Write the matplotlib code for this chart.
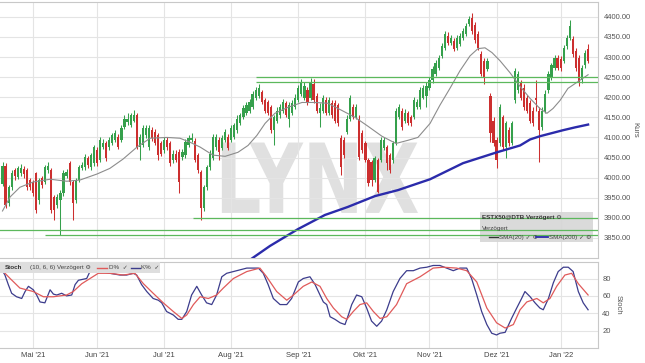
import numpy as np
import pandas as pd
import matplotlib
matplotlib.use("Agg")
import matplotlib.pyplot as plt
from matplotlib.patches import Rectangle, PathPatch
from matplotlib.textpath import TextPath
from matplotlib.font_manager import FontProperties
from matplotlib.transforms import Affine2D

plt.rcParams['font.family'] = ['Liberation Sans', 'DejaVu Sans']

# ---------------- data ----------------
opens = [3985, 4030, 3937, 3976, 4018, 4001, 4012, 4022, 4019, 3994,
         3989, 4011, 3944, 3999, 3989, 4019, 4019, 3952, 3932, 3944,
         3962, 4004, 4036, 3989, 3944, 3994, 4023, 4026, 4048, 4026,
         4036, 4068, 4043, 4075, 4085, 4075, 4085, 4093, 4100, 4093,
         4125, 4138, 4130, 4142, 4155, 4075, 4080, 4105, 4075, 4118,
         4113, 4105, 4085, 4068, 4093, 4085, 4043, 4060, 4063, 4051,
         4056, 4080, 4093, 4090, 4056, 4014, 3924, 3976, 4026, 4050,
         4075, 4093, 4073, 4093, 4100, 4093, 4100, 4118, 4135, 4150,
         4162, 4167, 4175, 4197, 4204, 4212, 4192, 4187, 4175, 4118,
         4142, 4155, 4167, 4185, 4147, 4162, 4175, 4192, 4209, 4199,
         4217, 4199, 4234, 4204, 4162, 4167, 4192, 4162, 4185, 4185,
         4180, 4098, 4093, 4113, 4147, 4175, 4150, 4147, 4110, 4085,
         4043, 4038, 3994, 4043, 4043, 4073, 4075, 4056, 4043, 4085,
         4150, 4167, 4142, 4160, 4150, 4150, 4175, 4175, 4199, 4204,
         4224, 4242, 4259, 4274, 4303, 4323, 4353, 4336, 4341, 4323,
         4333, 4348, 4358, 4383, 4398, 4380, 4358, 4308, 4291, 4271,
         4204, 4142, 4093, 4085, 4150, 4075, 4118, 4085, 4192, 4217,
         4237, 4224, 4199, 4185, 4167, 4197, 4167, 4125, 4167, 4217,
         4249, 4274, 4298, 4296, 4291, 4328, 4348, 4345, 4316, 4298,
         4242, 4279, 4321]
highs = [4040, 4036, 3982, 4018, 4025, 4030, 4033, 4028, 4025, 4000,
         3995, 4015, 4000, 4005, 4032, 4040, 4025, 3958, 3960, 3970,
         4018, 4022, 4042, 3995, 4000, 4032, 4040, 4058, 4055, 4062,
         4082, 4075, 4100, 4095, 4092, 4100, 4112, 4118, 4108, 4130,
         4155, 4160, 4162, 4168, 4160, 4108, 4130, 4132, 4130, 4125,
         4120, 4112, 4092, 4100, 4100, 4092, 4068, 4068, 4070, 4070,
         4095, 4105, 4110, 4098, 4062, 4020, 3982, 4032, 4068, 4108,
         4108, 4100, 4105, 4120, 4108, 4130, 4137, 4155, 4162, 4180,
         4187, 4195, 4215, 4225, 4232, 4218, 4198, 4192, 4180, 4155,
         4175, 4182, 4195, 4190, 4187, 4192, 4207, 4230, 4245, 4237,
         4225, 4248, 4245, 4210, 4185, 4205, 4200, 4200, 4192, 4192,
         4185, 4105, 4100, 4155, 4205, 4182, 4182, 4155, 4118, 4092,
         4050, 4045, 4055, 4050, 4100, 4100, 4082, 4062, 4092, 4172,
         4182, 4172, 4170, 4167, 4157, 4200, 4195, 4225, 4230, 4237,
         4250, 4278, 4292, 4305, 4335, 4365, 4362, 4356, 4348, 4356,
         4360, 4372, 4385, 4403, 4410, 4388, 4365, 4315, 4298, 4298,
         4210, 4150, 4100, 4182, 4157, 4142, 4125, 4142, 4274, 4266,
         4244, 4232, 4206, 4192, 4175, 4242, 4175, 4175, 4217, 4266,
         4286, 4305, 4305, 4303, 4330, 4355, 4392, 4352, 4322, 4305,
         4281, 4318, 4333]
lows = [3978, 3925, 3930, 3970, 3995, 3996, 4005, 4000, 3970, 3968,
        3955, 3912, 3935, 3975, 3983, 4012, 3912, 3895, 3925, 3857,
        3955, 3998, 3982, 3895, 3938, 3988, 4018, 4020, 4025, 4020,
        4030, 4030, 4038, 4070, 4042, 4068, 4080, 4088, 4070, 4088,
        4120, 4132, 4125, 4138, 4070, 4045, 4075, 4098, 4068, 4092,
        4080, 4045, 4055, 4062, 4068, 4030, 4036, 4038, 3962, 4045,
        4050, 4075, 4088, 4038, 4012, 3895, 3918, 3970, 4020, 4045,
        4068, 4045, 4068, 4088, 4068, 4088, 4095, 4112, 4130, 4145,
        4157, 4162, 4170, 4192, 4198, 4182, 4160, 4155, 4110, 4080,
        4135, 4148, 4160, 4150, 4125, 4155, 4170, 4187, 4204, 4192,
        4180, 4192, 4185, 4160, 4125, 4160, 4155, 4155, 4148, 4135,
        4128, 4006, 4050, 4108, 4142, 4145, 4145, 4045, 4062, 4038,
        3978, 3980, 3988, 3962, 4038, 4068, 4019, 4012, 4036, 4080,
        4145, 4118, 4135, 4130, 4128, 4145, 4170, 4170, 4195, 4175,
        4218, 4236, 4254, 4268, 4298, 4318, 4330, 4330, 4314, 4318,
        4328, 4342, 4352, 4378, 4358, 4336, 4318, 4252, 4234, 4265,
        4088, 4078, 4023, 4078, 4068, 4050, 4078, 4080, 4185, 4210,
        4192, 4168, 4160, 4135, 4128, 4165, 4038, 4118, 4160, 4210,
        4242, 4268, 4268, 4266, 4285, 4321, 4342, 4300, 4266, 4227,
        4236, 4272, 4285]
closes = [4030, 3932, 3976, 4011, 4003, 4023, 4025, 4008, 3976, 3976,
          3962, 3919, 3994, 3981, 4026, 4028, 3919, 3919, 3952, 3962,
          4011, 4014, 3989, 3937, 3994, 4026, 4031, 4051, 4031, 4056,
          4075, 4036, 4093, 4085, 4048, 4093, 4105, 4110, 4075, 4123,
          4147, 4147, 4155, 4155, 4075, 4100, 4123, 4123, 4123, 4098,
          4085, 4056, 4060, 4093, 4075, 4036, 4060, 4043, 3989, 4063,
          4088, 4098, 4098, 4043, 4019, 3924, 3976, 4026, 4060, 4100,
          4100, 4063, 4098, 4113, 4073, 4123, 4130, 4147, 4155, 4172,
          4180, 4187, 4209, 4217, 4222, 4187, 4167, 4162, 4118, 4150,
          4167, 4175, 4187, 4155, 4180, 4185, 4199, 4222, 4237, 4229,
          4185, 4237, 4192, 4167, 4172, 4197, 4160, 4192, 4155, 4142,
          4135, 4026, 4056, 4147, 4197, 4150, 4175, 4051, 4068, 4043,
          3986, 3994, 4048, 3964, 4093, 4093, 4036, 4019, 4085, 4167,
          4175, 4125, 4162, 4135, 4135, 4192, 4187, 4217, 4222, 4229,
          4242, 4271, 4284, 4298, 4328, 4358, 4336, 4348, 4321, 4348,
          4353, 4365, 4378, 4395, 4365, 4343, 4323, 4259, 4249, 4291,
          4110, 4085, 4043, 4175, 4075, 4135, 4085, 4135, 4266, 4259,
          4199, 4175, 4167, 4142, 4135, 4192, 4118, 4167, 4209, 4259,
          4279, 4298, 4274, 4274, 4323, 4348, 4378, 4308, 4274, 4237,
          4274, 4311, 4291]

sma20_idx = [0, 2.5, 5.7, 10, 15.6, 21.1, 25.4, 31, 35.2, 39.5, 44.1, 48.4,
             53.9, 58.2, 61.5, 64.8, 69, 73, 77.2, 80.5, 83.4, 86.1, 89.3,
             93.6, 98.2, 102.5, 106.7, 111.3, 115.6, 119.8, 124.4, 129, 133,
             136.2, 140.2, 143.4, 146.7, 150, 153.3, 155.9, 158.2, 160.5,
             163.1, 166.4, 169.7, 173, 176.2, 178.5, 180.5, 182.8, 185.4,
             188.7, 192]
sma20_val = [3917, 3952, 3976, 3989, 3996, 3991, 3994, 4009, 4023, 4046, 4076,
             4098, 4100, 4098, 4088, 4076, 4056, 4053, 4063, 4080, 4105, 4135,
             4160, 4175, 4187, 4187, 4185, 4167, 4150, 4128, 4103, 4085, 4093,
             4100, 4135, 4180, 4222, 4266, 4303, 4321, 4323, 4311, 4291, 4261,
             4227, 4197, 4172, 4160, 4172, 4192, 4222, 4239, 4256]

sma200_idx = [80, 82, 87.7, 96.9, 105.7, 113.2, 122.1, 129.7, 140.2, 151,
              162.1, 169.7, 173, 176.2, 183.8, 187.7, 192]
sma200_val = [3789, 3800, 3830, 3872, 3907, 3927, 3954, 3969, 3996, 4036,
              4063, 4080, 4095, 4103, 4118, 4125, 4132]

support_levels = [4250, 4237, 3900, 3870, 3857]
support_start = [83, 83, 62.5, -1, 14]

k_idx = [0, 0.8, 1.9, 3, 4.6, 6.3, 7.4, 8.5, 10.1, 11.2, 12.3, 13.9, 15.6, 16.7,
         17.8, 19.4, 21, 22.7, 23.8, 24.9, 27.6, 29.2, 30.3, 32, 35.2, 38.5,
         40.7, 42.9, 44, 45.6, 47.3, 49.4, 51.1, 52.2, 53.8, 56, 57.6, 58.8,
         60.4, 62, 63.7, 65.3, 66.9, 68.6, 70.2, 71.9, 73.5, 75.7, 80.1, 83.9,
         85.5, 87.1, 88.8, 91, 93.2, 94.8, 97, 98.6, 100.8, 102.5, 104.1,
         105.2, 106.3, 107.4, 109, 110.7, 112.3, 113.4, 114.5, 116.1, 117.8,
         119.4, 121, 122.7, 124.3, 126, 128.1, 130.3, 132.5, 134.7, 136.9,
         139.1, 141.2, 143.4, 145.6, 147.8, 150, 152.2, 153.8, 155.5, 157.1,
         158.8, 160.4, 162, 163.1, 164.8, 166.9, 168.6, 170.2, 171.3, 173,
         174.6, 176.2, 177.3, 179, 180.6, 182.2, 183.9, 185.5, 187.1, 188.8,
         190.4, 192]
k_val = [89, 84, 73, 63, 59, 57, 65, 71, 67, 61, 53, 52, 67, 62,
         61, 63, 60, 61, 73, 78, 80, 92, 90, 88, 86, 84,
         84, 86, 84, 73, 65, 57, 55, 52, 42, 38, 33, 33,
         42, 61, 71, 61, 52, 50, 61, 82, 86, 88, 92, 92,
         86, 73, 57, 50, 50, 57, 76, 80, 82, 73, 61,
         53, 50, 36, 33, 29, 27, 38, 50, 61, 59,
         46, 31, 25, 31, 44, 65, 80, 89, 89, 92,
         93, 95, 95, 92, 89, 92, 92, 80, 61, 42,
         27, 17, 15, 17, 18, 34, 46, 57, 65, 59,
         52, 46, 44, 57, 75, 88, 93, 93, 88, 65,
         52, 44]
d_idx = [0, 2.5, 5.7, 7.9, 10.1, 13.4, 16.7, 21, 23.2, 26, 28.7, 31.4, 35.2,
         39.6, 43.4, 46.2, 49.4, 52.7, 56, 58.8, 60.4, 62.6, 64.8, 67.5,
         70.2, 72.4, 75.7, 80.1, 84.4, 86.6, 89.9, 93.2, 95.4, 98.6, 101.4,
         104.1, 106.3, 108.5, 111.2, 112.9, 115, 117.2, 119.4, 121.6, 123.8,
         126, 129.2, 132.5, 136.9, 141.2, 144.5, 148.9, 152.2, 155.5, 158.8,
         162, 164.8, 167.5, 169.7, 171.9, 175.2, 177.3, 179.5, 181.7, 184.4,
         186.6, 188.8, 192]
d_val = [89, 80, 69, 67, 65, 59, 59, 61, 65, 74, 80, 86, 86,
         84, 86, 74, 63, 52, 42, 34, 38, 50, 59, 57,
         61, 69, 80, 88, 92, 82, 65, 55, 61, 71, 76,
         71, 57, 46, 36, 33, 42, 50, 52, 42, 34,
         36, 50, 74, 82, 92, 93, 92, 89, 76, 46,
         29, 23, 27, 44, 53, 57, 52, 57, 71, 84,
         86, 74, 61]

month_labels = ["Mai '21", "Jun '21", "Jul '21", "Aug '21", "Sep '21",
                "Okt '21", "Nov '21", "Dez '21", "Jan '22"]
y_ticks = [3850, 3900, 3950, 4000, 4050, 4100, 4150, 4200, 4250, 4300,
           4350, 4400]
stoch_ticks = [20, 40, 60, 80]

# ---------------- helpers ----------------
dates = pd.bdate_range('2021-04-19', '2022-01-14')
dates = dates[~dates.isin(pd.to_datetime(['2021-12-24', '2021-12-31']))]
dates = dates[:len(closes)]
idx = np.arange(len(closes))
month_key = dates.to_period('M')
first_of_month = [i for i in range(1, len(dates)) if month_key[i] != month_key[i - 1]]

W, H = 645, 363
fig = plt.figure(figsize=(W / 100, H / 100), dpi=100)
fig.patch.set_facecolor('white')
ax = fig.add_axes([0, 1 - 258 / H, 598 / W, 256 / H])
ax2 = fig.add_axes([0, 1 - 348 / H, 598 / W, 86 / H])

XL = (-0.82, 195.25)
GREEN, RED = '#35a04c', '#cc2f2f'
GRID = '#e4e4e4'
SPINE = '#c8c8c8'
TXT = '#555555'

# ---------------- main panel ----------------
o = np.array(opens, float); c = np.array(closes, float)
h = np.array(highs, float); l = np.array(lows, float)
col = np.where(c >= o, GREEN, RED)
ax.vlines(idx, l, h, colors=col, lw=0.75, zorder=3)
body = np.maximum(np.abs(c - o), 1.5)
ax.bar(idx, body, bottom=np.minimum(o, c), width=0.72, color=col,
       linewidth=0, zorder=3.2)

ax.plot(sma20_idx, sma20_val, color='#8c8c8c', lw=0.8, zorder=3.5)
ax.plot(sma200_idx, sma200_val, color='#2b2bab', lw=1.7, zorder=3.6)

ax.set_xlim(*XL)
ax.set_ylim(3800, 4437)
ax.hlines(support_levels, support_start, XL[1], colors='#5cb85c', lw=0.9, zorder=4)

ax.set_yticks(y_ticks)
ax.set_yticklabels([f"{v:.2f}" for v in y_ticks])
ax.yaxis.tick_right()
ax.tick_params(axis='y', length=0, pad=4, labelsize=5.5, labelcolor=TXT)
ax.set_xticks(first_of_month)
ax.tick_params(axis='x', length=0, labelbottom=False)
ax.grid(True, color=GRID, lw=0.8, zorder=0)
ax.set_axisbelow(True)
for s in ax.spines.values():
    s.set_color(SPINE); s.set_linewidth(0.8)
ax.spines['left'].set_visible(False)
ax.set_ylabel('Kurs', rotation=-90, fontsize=5.5, color=TXT, va='center')
ax.yaxis.set_label_position('right')
ax.yaxis.set_label_coords(1.068, 0.5)

# watermark
fp = FontProperties(family='DejaVu Sans', weight='bold')
tp = TextPath((0, 0), 'LYNX', size=1, prop=fp)
ext = tp.get_extents()
tr = (Affine2D().translate(-ext.x0, -ext.y0)
      .scale(0.328 / ext.width, 0.275 / ext.height)
      .translate(0.371, 0.176) + ax.transAxes)
ax.add_patch(PathPatch(tp, transform=tr, fc='#e0e0e0', ec='none', zorder=0.5))

# legend box main
ax.add_patch(Rectangle((0.803, 0.0625), 0.189, 0.117, transform=ax.transAxes,
                       fc='#d6d6d6', ec='none', alpha=0.9, zorder=3.8))
ax.text(0.806, 0.160, 'ESTX50@DTB Verzögert \u2699', transform=ax.transAxes,
        fontsize=4.5, fontweight='bold', color='#333333', va='center', zorder=6)
ax.text(0.806, 0.117, 'Verzögert', transform=ax.transAxes,
        fontsize=4.5, color='#444444', va='center', zorder=6)
ax.plot([0.818, 0.832], [0.082, 0.082], transform=ax.transAxes, color='#333333',
        lw=1.0, zorder=6)
ax.text(0.835, 0.082, 'SMA(20) \u2713 \u2699', transform=ax.transAxes,
        fontsize=4.5, color='#444444', va='center', zorder=6)
ax.plot([0.896, 0.916], [0.082, 0.082], transform=ax.transAxes, color='#2b2bab',
        lw=1.3, zorder=6)
ax.text(0.918, 0.082, 'SMA(200) \u2713 \u2699', transform=ax.transAxes,
        fontsize=4.5, color='#444444', va='center', zorder=6)

# ---------------- stoch panel ----------------
ax2.plot(k_idx, k_val, color='#3c3c8c', lw=0.9, zorder=3)
ax2.plot(d_idx, d_val, color='#e05a5a', lw=0.9, zorder=3.1)
ax2.set_xlim(*XL)
ax2.set_ylim(0, 99)
ax2.set_yticks(stoch_ticks)
ax2.yaxis.tick_right()
ax2.tick_params(axis='y', length=0, pad=3, labelsize=5.5, labelcolor=TXT)
ax2.set_xticks(first_of_month)
ax2.set_xticklabels(month_labels)
ax2.tick_params(axis='x', length=0, pad=3, labelsize=5.5, labelcolor='#444444')
ax2.grid(True, color=GRID, lw=0.8, zorder=0)
ax2.set_axisbelow(True)
for s in ax2.spines.values():
    s.set_color(SPINE); s.set_linewidth(0.8)
ax2.spines['left'].set_visible(False)
ax2.set_ylabel('Stoch', rotation=-90, fontsize=5.5, color=TXT, va='center')
ax2.yaxis.set_label_position('right')
ax2.yaxis.set_label_coords(1.04, 0.5)

ax2.add_patch(Rectangle((0, 0.872), 0.268, 0.128, transform=ax2.transAxes,
                        fc='#dedede', ec='none', zorder=4))
yy = 0.936
ax2.text(0.008, yy, 'Stoch', transform=ax2.transAxes, fontsize=4.5,
         fontweight='bold', color='#333333', va='center', zorder=6)
ax2.text(0.050, yy, '(10, 6, 6) Verzögert \u2699', transform=ax2.transAxes,
         fontsize=4.5, color='#444444', va='center', zorder=6)
ax2.plot([0.162, 0.179], [yy, yy], transform=ax2.transAxes, color='#e05a5a',
         lw=1.0, zorder=6)
ax2.text(0.182, yy, 'D%  \u2713', transform=ax2.transAxes, fontsize=4.5,
         color='#444444', va='center', zorder=6)
ax2.plot([0.219, 0.234], [yy, yy], transform=ax2.transAxes, color='#3c3c8c',
         lw=1.0, zorder=6)
ax2.text(0.236, yy, 'K%  \u2713', transform=ax2.transAxes, fontsize=4.5,
         color='#444444', va='center', zorder=6)

fig.savefig('out.png', dpi=100)
